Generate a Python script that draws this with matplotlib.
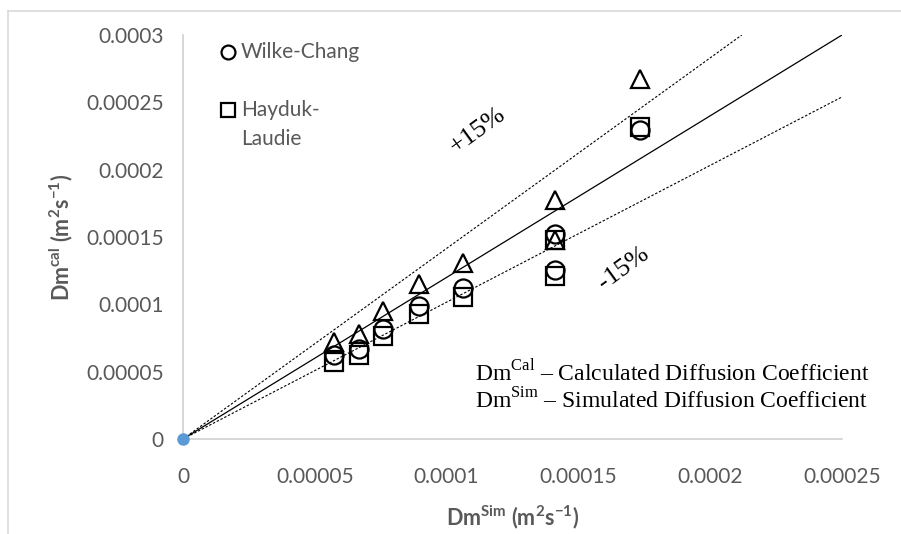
import matplotlib
matplotlib.use("Agg")
import matplotlib.pyplot as plt
from matplotlib.lines import Line2D

plt.rcParams["mathtext.fontset"] = "custom"
plt.rcParams["mathtext.bf"] = "Lato:bold"
plt.rcParams["mathtext.rm"] = "Lato"

# simulated diffusion coefficient (x) and calculated values (y)
dm_sim = [5.73e-5, 6.68e-5, 7.59e-5, 8.95e-5, 1.062e-4, 1.410e-4, 1.412e-4, 1.734e-4]
wilke_chang = [6.24e-5, 6.69e-5, 8.17e-5, 9.88e-5, 1.122e-4, 1.523e-4, 1.256e-4, 2.296e-4]
hayduk_laudie = [5.72e-5, 6.24e-5, 7.65e-5, 9.29e-5, 1.055e-4, 1.479e-4, 1.211e-4, 2.318e-4]
third_series = [7.21e-5, 7.80e-5, 9.51e-5, 1.152e-4, 1.308e-4, 1.776e-4, 1.479e-4, 2.675e-4]

# reference lines (end points)
ref_x = [0, 0.00025]
ref_y = [0, 0.0003]
plus_x = [0, 0.000212]
plus_y = [0, 0.0003]
minus_x = [0, 0.00025]
minus_y = [0, 0.000254]

xticks = [0, 0.00005, 0.0001, 0.00015, 0.0002, 0.00025]
xlabels = ["0", "0.00005", "0.0001", "0.00015", "0.0002", "0.00025"]
yticks = [0, 0.00005, 0.0001, 0.00015, 0.0002, 0.00025, 0.0003]
ylabels = ["0", "0.00005", "0.0001", "0.00015", "0.0002", "0.00025", "0.0003"]

W, H = 901, 534
fig = plt.figure(figsize=(W / 100, H / 100), dpi=100)
ax = fig.add_axes([183 / W, 1 - 439 / H, (842 - 183) / W, (439 - 35) / H])

gray_txt = "#595959"
axis_col = "#D0D0D0"

# chart border
fig.add_artist(Line2D([8 / W, 1], [1 - 11 / H, 1 - 11 / H], color="#D9D9D9", lw=1.2))
fig.add_artist(Line2D([8 / W, 8 / W], [0, 1 - 11 / H], color="#D9D9D9", lw=1.2))

ax.plot(ref_x, ref_y, color="black", lw=0.9)
ax.plot(plus_x, plus_y, color="black", lw=0.8, linestyle=(0, (2.2, 1.6)))
ax.plot(minus_x, minus_y, color="black", lw=0.8, linestyle=(0, (2.2, 1.6)))

mk = dict(linestyle="none", markerfacecolor="none", markeredgecolor="black", markeredgewidth=1.6)
ax.plot(dm_sim, third_series, marker="^", markersize=13.5, **mk)
ax.plot(dm_sim, hayduk_laudie, marker="s", markersize=13, **mk)
ax.plot(dm_sim, wilke_chang, marker="o", markersize=13, **mk)

ax.plot([0], [0], marker="o", markersize=8, color="#5B9BD5", clip_on=False, zorder=5)

ax.set_xlim(0, 0.00025)
ax.set_ylim(0, 0.0003)
ax.set_xticks(xticks)
ax.set_xticklabels(xlabels)
ax.set_yticks(yticks)
ax.set_yticklabels(ylabels)
ax.tick_params(length=0, labelsize=15, labelcolor=gray_txt)
ax.tick_params(axis="y", pad=14)
ax.tick_params(axis="x", pad=20)
for lbl in ax.get_xticklabels() + ax.get_yticklabels():
    lbl.set_family("Lato")

for s in ["top", "right"]:
    ax.spines[s].set_visible(False)
ax.spines["left"].set_color(axis_col)
ax.spines["bottom"].set_color(axis_col)
ax.spines["left"].set_linewidth(1.2)
ax.spines["bottom"].set_linewidth(1.2)

ax.set_xlabel(r"Dm$^{\mathbf{Sim}}$ (m$^{\mathbf{2}}$s$^{\mathbf{-1}}$)",
              family="Lato", fontsize=15.5, fontweight="bold", color=gray_txt, labelpad=12)
ax.set_ylabel(r"Dm$^{\mathbf{cal}}$ (m$^{\mathbf{2}}$s$^{\mathbf{-1}}$)",
              family="Lato", fontsize=15.5, fontweight="bold", color=gray_txt, labelpad=8)

# legend (circle and square only)
fig.add_artist(Line2D([228 / W], [1 - 52 / H], marker="o", markersize=10, markerfacecolor="none",
                      markeredgecolor="black", markeredgewidth=1.6))
fig.add_artist(Line2D([228 / W], [1 - 110 / H], marker="s", markersize=10, markerfacecolor="none",
                      markeredgecolor="black", markeredgewidth=1.6))
fig.text(241 / W, 1 - 52 / H, "Wilke-Chang", family="Lato", fontsize=15, color=gray_txt, va="center")
fig.text(241 / W, 1 - 110 / H, "Hayduk-", family="Lato", fontsize=15, color=gray_txt, va="center")
fig.text(241 / W, 1 - 139 / H, "Laudie", family="Lato", fontsize=15, color=gray_txt, va="center")

# annotations
fig.text(478 / W, 1 - 131 / H, "+15%", family="Liberation Serif", fontsize=19, rotation=36,
         ha="center", va="center")
fig.text(624 / W, 1 - 268 / H, "-15%", family="Liberation Serif", fontsize=19, rotation=36,
         ha="center", va="center")

plt.rcParams["mathtext.rm"] = "Liberation Serif"
fig.text(475 / W, 1 - 373 / H, "Dm$^{\\mathregular{Cal}}$ \u2013 Calculated Diffusion Coefficient",
         family="Liberation Serif", fontsize=17, va="center")
fig.text(475 / W, 1 - 401 / H, "Dm$^{\\mathregular{Sim}}$ \u2013 Simulated Diffusion Coefficient",
         family="Liberation Serif", fontsize=17, va="center")

fig.savefig("out.png", dpi=100)
